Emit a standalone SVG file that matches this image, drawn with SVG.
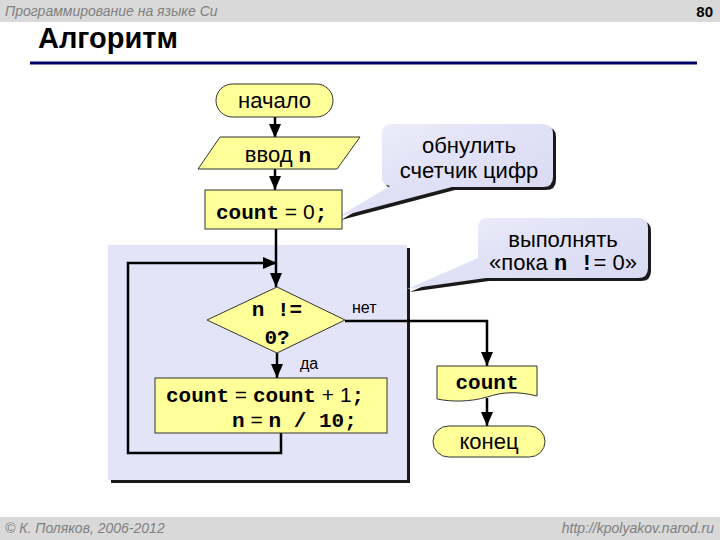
<svg xmlns="http://www.w3.org/2000/svg" width="720" height="540" viewBox="0 0 720 540">
<defs>
<style>
.sans{font-family:"Liberation Sans",Arial,sans-serif}
.mono{font-family:"Liberation Mono","Courier New",monospace;font-weight:bold}
.node{fill:#ffff99;stroke:#333;stroke-width:1}
.lbl{font-size:22px;fill:#000}
.code{font-size:21px;fill:#000}
.line{fill:none;stroke:#000;stroke-width:2.5}
.shadow{fill:#1a1a1a}
.call{fill:url(#cg)}
.hf{font-size:14px;font-style:italic;fill:#7f7f7f}
</style>
<linearGradient id="cg" x1="0" y1="0" x2="1" y2="1">
<stop offset="0" stop-color="#efeffb"/>
<stop offset="0.5" stop-color="#e0e0f6"/>
<stop offset="1" stop-color="#d8d8f2"/>
</linearGradient>
<marker id="ahv" markerWidth="14" markerHeight="12" refX="14" refY="6" orient="auto" markerUnits="userSpaceOnUse">
<path d="M0,0 L14,6 L0,12 Z" fill="#000"/>
</marker>
</defs>
<rect width="720" height="540" fill="#fff"/>
<g id="header">
<rect x="0" y="0" width="720" height="22" fill="#d9d9d9"/>
<text x="5" y="16" class="sans hf">Программирование на языке Си</text>
<text x="713" y="17" class="sans" font-size="15" font-weight="bold" fill="#000" text-anchor="end">80</text>
<text x="38" y="48" class="sans" font-size="29" font-weight="bold" fill="#000">Алгоритм</text>
<rect x="30" y="61.5" width="667" height="3" fill="#000066"/>
</g>
<g id="footer">
<rect x="0" y="517" width="720" height="23" fill="#d9d9d9"/>
<text x="5" y="533" class="sans hf">© К. Поляков, 2006-2012</text>
<text x="714" y="533" class="sans hf" text-anchor="end">http://kpolyakov.narod.ru</text>
</g>
<g id="loop-panel">
<rect x="111" y="248" width="299" height="235" fill="#1a1a1a"/>
<rect x="108" y="245" width="299" height="235" fill="#e4e4f8"/>
</g>
<g id="callout-zero">
<path class="shadow" transform="translate(3,3)" d="M392,124 H543 Q553,124 553,134 V177 Q553,187 543,187 H452 L338,217 L390,186 Q382,185 382,177 V134 Q382,124 392,124 Z"/>
<path class="call" d="M392,124 H543 Q553,124 553,134 V177 Q553,187 543,187 H452 L338,217 L390,186 Q382,185 382,177 V134 Q382,124 392,124 Z"/>
<text class="sans lbl" x="469" y="153" text-anchor="middle">обнулить</text>
<text class="sans lbl" x="469" y="178" text-anchor="middle">счетчик цифр</text>
</g>
<g id="callout-while">
<path class="shadow" transform="translate(3,3)" d="M488,218 H638 Q648,218 648,228 V268 Q648,278 638,278 H486 L407,289 L478,258 V228 Q478,218 488,218 Z"/>
<path class="call" d="M488,218 H638 Q648,218 648,228 V268 Q648,278 638,278 H486 L407,289 L478,258 V228 Q478,218 488,218 Z"/>
<text class="sans lbl" x="563" y="247" text-anchor="middle">выполнять</text>
<text class="lbl" x="563" y="270" text-anchor="middle"><tspan class="sans">«пока </tspan><tspan class="mono">n !</tspan><tspan class="sans">= 0»</tspan></text>
</g>
<g id="connectors">
<line class="line" x1="275" y1="117" x2="275" y2="138" marker-end="url(#ahv)"/>
<line class="line" x1="275" y1="169" x2="275" y2="190" marker-end="url(#ahv)"/>
<line class="line" x1="276" y1="229" x2="276" y2="287" marker-end="url(#ahv)"/>
<polyline class="line" points="281,433 281,453 128,453 128,263 277,263" marker-end="url(#ahv)"/>
<line class="line" x1="277" y1="353" x2="277" y2="378" marker-end="url(#ahv)"/>
<polyline class="line" points="345,321 487,321 487,366" marker-end="url(#ahv)"/>
<line class="line" x1="487" y1="398" x2="487" y2="426" marker-end="url(#ahv)"/>
<text class="sans" x="352" y="313" font-size="16" fill="#000">нет</text>
<text class="sans" x="300" y="369" font-size="16" fill="#000">да</text>
</g>
<g id="start">
<rect class="node" x="216" y="84" width="117" height="33" rx="16.5"/>
<text class="sans lbl" x="274.5" y="108" text-anchor="middle">начало</text>
</g>
<g id="input">
<polygon class="node" points="220,137 360,137 337,169 198,169"/>
<text class="lbl" x="278" y="162" text-anchor="middle"><tspan class="sans">ввод </tspan><tspan class="mono" font-size="21">n</tspan></text>
</g>
<g id="init">
<rect class="node" x="205" y="190" width="137" height="39"/>
<text class="code" x="216" y="219"><tspan class="mono">count</tspan><tspan class="sans"> = 0</tspan><tspan class="mono">;</tspan></text>
</g>
<g id="condition">
<polygon class="node" points="277,287 345,320 277,353 207,320"/>
<text class="mono code" x="277" y="316" text-anchor="middle">n !=</text>
<text class="mono code" x="277" y="344" text-anchor="middle">0?</text>
</g>
<g id="body">
<rect class="node" x="155" y="378" width="232" height="55"/>
<text class="code" x="166" y="402"><tspan class="mono">count</tspan><tspan class="sans"> = </tspan><tspan class="mono">count</tspan><tspan class="sans"> + 1</tspan><tspan class="mono">;</tspan></text>
<text class="code" x="232" y="427"><tspan class="mono">n</tspan><tspan class="sans"> = </tspan><tspan class="mono">n / 10;</tspan></text>
</g>
<g id="output">
<path class="node" d="M437,366 H537 V396 C517,391 502,392 487,397 C470,402 452,402 437,399 Z"/>
<text class="mono code" x="487" y="389" text-anchor="middle">count</text>
</g>
<g id="end">
<rect class="node" x="433" y="426" width="112" height="31" rx="15.5"/>
<text class="sans lbl" x="489" y="449" text-anchor="middle">конец</text>
</g>
</svg>
